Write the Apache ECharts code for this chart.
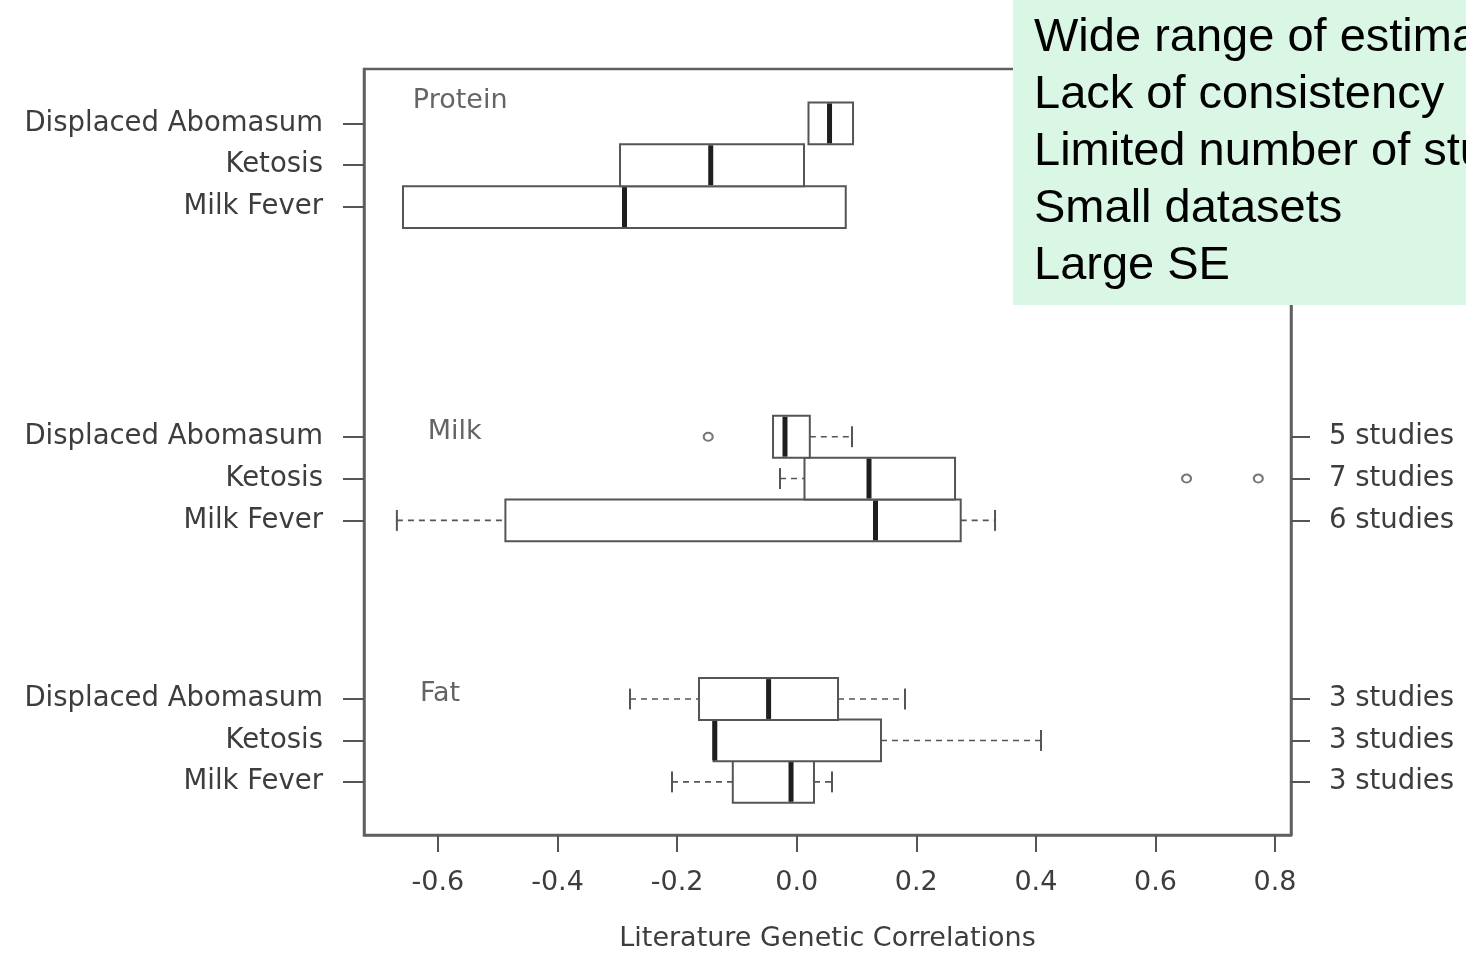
<!DOCTYPE html>
<html>
<head>
<meta charset="utf-8">
<script src="https://cdn.jsdelivr.net/npm/echarts@6/dist/echarts.min.js"></script>
<style>
  html, body { margin: 0; padding: 0; background: #ffffff; }
  #chart { width: 1466px; height: 957px; }
</style>
</head>
<body>
<div id="chart"></div>
<script>
// ---------------- data ----------------
// rows from bottom to top: Fat (MF, Ket, DA), Milk (MF, Ket, DA), Protein (MF, Ket, DA)
const rowLabels = ['Milk Fever', 'Ketosis', 'Displaced Abomasum',
                   'Milk Fever', 'Ketosis', 'Displaced Abomasum',
                   'Milk Fever', 'Ketosis', 'Displaced Abomasum'];
const rowPositions = [1.27, 2.26, 3.25, 7.52, 8.52, 9.52, 15.01, 16.01, 17.01];
const studyLabels = ['3 studies', '3 studies', '3 studies', '6 studies', '7 studies', '5 studies'];

const whiskerLow  = [-0.2086, -0.1390, -0.2788, -0.6687, -0.0279, -0.0396, -0.6585, -0.2955, 0.0197];
const quartile1   = [-0.1069, -0.1390, -0.1634, -0.4872,  0.0130, -0.0396, -0.6585, -0.2955, 0.0197];
const medians     = [-0.0095, -0.1370, -0.0470,  0.1318,  0.1209, -0.0196, -0.2880, -0.1438, 0.0549];
const quartile3   = [ 0.0289,  0.1410,  0.0691,  0.2743,  0.2648,  0.0219,  0.0820,  0.0122, 0.0942];
const whiskerHigh = [ 0.0590,  0.4086,  0.1811,  0.3317,  0.2648,  0.0925,  0.0820,  0.0122, 0.0942];

const outlierRows   = [5, 4, 4];
const outlierValues = [-0.148, 0.652, 0.772];

const groupNames = ['Fat', 'Milk', 'Protein'];
const groupLabelX = [-0.630, -0.617, -0.642];
const groupLabelY = [3.36, 9.64, 17.55];

const xTickValues = [-0.6, -0.4, -0.2, 0.0, 0.2, 0.4, 0.6, 0.8];
const xTickLabels = ['-0.6', '-0.4', '-0.2', '0.0', '0.2', '0.4', '0.6', '0.8'];
const xAxisTitle = 'Literature Genetic Correlations';

const noteLines = ['Wide range of estimates', 'Lack of consistency', 'Limited number of studies', 'Small datasets', 'Large SE'];

// ---------------- build ----------------
function nearestIndex(arr, v) {
  let best = 0, bd = Infinity;
  arr.forEach((a, i) => { const d = Math.abs(a - v); if (d < bd) { bd = d; best = i; } });
  return best;
}

const boxData = rowPositions.map((p, i) => [p, whiskerLow[i], quartile1[i], medians[i], quartile3[i], whiskerHigh[i]]);
const outlierData = outlierRows.map((r, i) => [outlierValues[i], rowPositions[r]]);
const groupData = groupNames.map((n, i) => ({ value: [groupLabelX[i], groupLabelY[i]], name: n }));

const frameColor = '#606060';
const boxColor = '#555555';
const textColor = '#3d3d3d';
const font = 'DejaVu Sans';

const chart = echarts.init(document.getElementById('chart'), null, { renderer: 'canvas' });

chart.setOption({
  backgroundColor: '#ffffff',
  animation: false,
  grid: {
    left: 364, top: 69, width: 927, height: 769,
    show: true, borderColor: frameColor, borderWidth: 2.5, backgroundColor: 'transparent'
  },
  xAxis: {
    type: 'value',
    min: -0.7237, max: 0.8267,
    name: xAxisTitle,
    nameLocation: 'middle',
    nameGap: 90,
    nameTextStyle: { fontFamily: font, fontSize: 27, color: textColor },
    axisLine: { show: true, onZero: false, lineStyle: { color: frameColor, width: 2.5 } },
    axisTick: { show: true, customValues: xTickValues, length: 17, lineStyle: { color: boxColor, width: 2 } },
    axisLabel: {
      customValues: xTickValues,
      formatter: v => xTickLabels[nearestIndex(xTickValues, v)],
      margin: 34, fontFamily: font, fontSize: 27, color: textColor
    },
    splitLine: { show: false }
  },
  yAxis: [
    {
      type: 'value', position: 'left',
      min: 0, max: 18.31,
      axisLine: { show: true, onZero: false, lineStyle: { color: frameColor, width: 2.5 } },
      axisTick: { show: true, customValues: rowPositions, length: 21, lineStyle: { color: boxColor, width: 2 } },
      axisLabel: {
        customValues: rowPositions,
        formatter: v => rowLabels[nearestIndex(rowPositions, v)],
        margin: 41, fontFamily: font, fontSize: 27.5, color: textColor
      },
      splitLine: { show: false }
    },
    {
      type: 'value', position: 'right',
      min: 0, max: 18.31,
      axisLine: { show: true, onZero: false, lineStyle: { color: frameColor, width: 2.5 } },
      axisTick: { show: true, customValues: rowPositions.slice(0, 6), length: 19, lineStyle: { color: boxColor, width: 2 } },
      axisLabel: {
        customValues: rowPositions.slice(0, 6),
        formatter: v => studyLabels[nearestIndex(rowPositions.slice(0, 6), v)],
        margin: 38, fontFamily: font, fontSize: 27.5, color: textColor
      },
      splitLine: { show: false }
    }
  ],
  series: [
    {
      type: 'custom',
      xAxisIndex: 0, yAxisIndex: 0,
      data: boxData,
      encode: { x: [1, 2, 3, 4, 5], y: 0 },
      clip: false,
      renderItem: function (params, api) {
        const pos = api.value(0);
        const lo = api.value(1), q1 = api.value(2), med = api.value(3), q3 = api.value(4), hi = api.value(5);
        const unit = api.size([0, 1])[1];
        const h = unit / 2;
        const cap = h / 2;
        const pLo = api.coord([lo, pos]);
        const pQ1 = api.coord([q1, pos]);
        const pMed = api.coord([med, pos]);
        const pQ3 = api.coord([q3, pos]);
        const pHi = api.coord([hi, pos]);
        const cy = pQ1[1];
        const whiskStyle = { stroke: boxColor, lineWidth: 1.6, lineDash: [6, 5] };
        const capStyle = { stroke: boxColor, lineWidth: 2 };
        const children = [];
        if (lo < q1) {
          children.push({ type: 'line', shape: { x1: pLo[0], y1: cy, x2: pQ1[0], y2: cy }, style: whiskStyle });
          children.push({ type: 'line', shape: { x1: pLo[0], y1: cy - cap, x2: pLo[0], y2: cy + cap }, style: capStyle });
        }
        if (hi > q3) {
          children.push({ type: 'line', shape: { x1: pQ3[0], y1: cy, x2: pHi[0], y2: cy }, style: whiskStyle });
          children.push({ type: 'line', shape: { x1: pHi[0], y1: cy - cap, x2: pHi[0], y2: cy + cap }, style: capStyle });
        }
        children.push({
          type: 'rect',
          shape: { x: pQ1[0], y: cy - h, width: pQ3[0] - pQ1[0], height: 2 * h },
          style: { fill: '#ffffff', stroke: boxColor, lineWidth: 2 }
        });
        children.push({
          type: 'line',
          shape: { x1: pMed[0], y1: cy - h + 1, x2: pMed[0], y2: cy + h - 1 },
          style: { stroke: '#1e1e1e', lineWidth: 5 }
        });
        return { type: 'group', children: children };
      }
    },
    {
      type: 'scatter',
      data: outlierData,
      symbol: 'emptyCircle',
      symbolSize: [9, 8],
      itemStyle: { color: boxColor, borderColor: boxColor, borderWidth: 1.6 },
      silent: true
    },
    {
      type: 'scatter',
      data: groupData,
      symbolSize: 0,
      label: {
        show: true, position: 'right', distance: 0,
        formatter: p => p.name,
        fontFamily: font, fontSize: 27, color: textColor
      },
      silent: true
    }
  ],
  graphic: [
    {
      type: 'rect', left: 1013, top: -2, z: 100,
      shape: { width: 470, height: 307 },
      style: { fill: '#daf7e6' }
    },
    {
      type: 'text', left: 1034, top: 10, z: 101,
      style: {
        text: noteLines.join('\n'),
        font: '47px "Liberation Sans", Arial, sans-serif',
        fill: '#000000',
        lineHeight: 57
      }
    }
  ]
});
</script>
</body>
</html>
